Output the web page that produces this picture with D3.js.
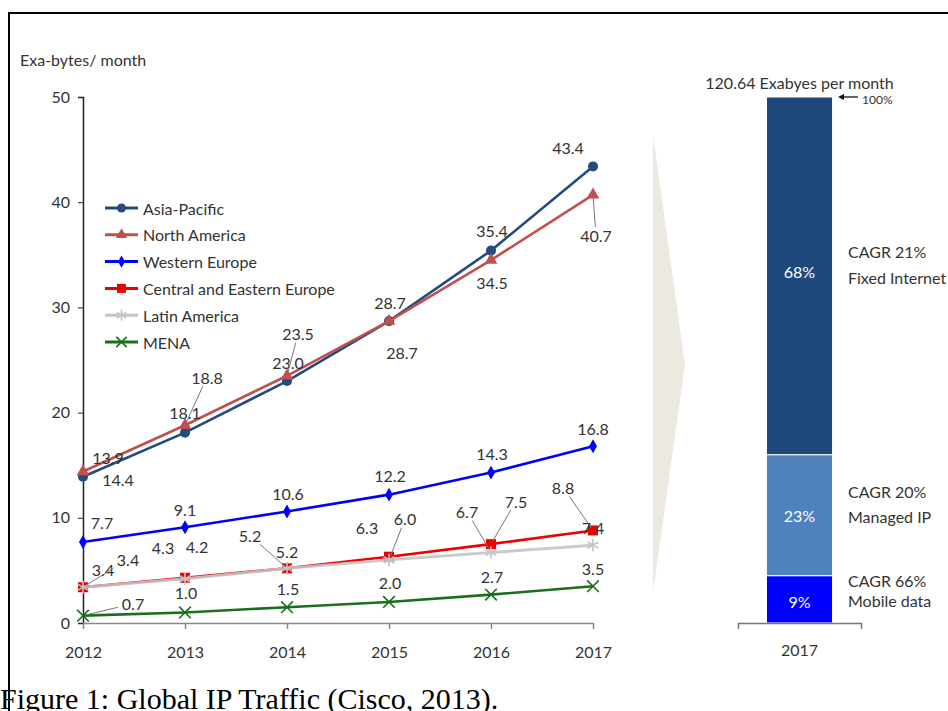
<!DOCTYPE html>
<html>
<head>
<meta charset="utf-8">
<script src="https://cdn.jsdelivr.net/npm/d3@7/dist/d3.min.js"></script>
<style>
  html, body { margin: 0; padding: 0; background: #fff; }
  svg { display: block; }
  text { font-family: Lato, "Open Sans", sans-serif; fill: #333; }
</style>
</head>
<body>
<svg id="chart" width="948" height="711"></svg>
<script>
// ---- data ----
const years = [2012, 2013, 2014, 2015, 2016, 2017];
const asiaPacific = [13.9, 18.1, 23.0, 28.7, 35.4, 43.4];
const northAmerica = [14.4, 18.8, 23.5, 28.7, 34.5, 40.7];
const westernEurope = [7.7, 9.1, 10.6, 12.2, 14.3, 16.8];
const centralEasternEurope = [3.4, 4.3, 5.2, 6.3, 7.5, 8.8];
const latinAmerica = [3.4, 4.2, 5.2, 6.0, 6.7, 7.4];
const mena = [0.7, 1.0, 1.5, 2.0, 2.7, 3.5];
const yTicks = [0, 10, 20, 30, 40, 50];

const trafficTypes = ["Mobile data", "Managed IP", "Fixed Internet"];
const trafficShares = [9, 23, 68];
const trafficCagr = [66, 20, 21];
const trafficYear = "2017";
const trafficTotal = "120.64 Exabyes per month";

// ---- series styling and label placement (pixel offsets from the point) ----
const series = [
  { name: "Asia-Pacific", values: asiaPacific, color: "#234B7F", symbol: "circle",
    labels: [[25,-19],[0,-20],[1,-19],[1,-19],[1,-20],[-25,-19]] },
  { name: "North America", values: northAmerica, color: "#C0504D", symbol: "triangle",
    labels: [[35,8],[22,-48,1],[11,-42,1],[13,31],[1,22],[3,41,1]] },
  { name: "Western Europe", values: westernEurope, color: "#0000FF", symbol: "diamond",
    labels: [[19,-19],[0,-18],[1,-18],[1,-19],[1,-19],[0,-18]] },
  { name: "Central and Eastern Europe", values: centralEasternEurope, color: "#EE0000", symbol: "square",
    labels: [[20,-18],[-22,-30],[-37,-33,1],[-22,-29],[25,-43,1],[-30,-43,1]] },
  { name: "Latin America", values: latinAmerica, color: "#C4C4C4", symbol: "asterisk",
    labels: [[45,-28,1],[12,-32],[0,-17],[16,-41,1],[-24,-41,1],[0,-18]] },
  { name: "MENA", values: mena, color: "#1B6E1B", symbol: "times",
    labels: [[50,-12,1],[1,-20],[1,-19],[1,-19],[1,-18],[0,-18]] }
];

const svg = d3.select("#chart");

// frame
svg.append("path")
  .attr("d", "M9,711 V13 H948")
  .attr("fill", "none").attr("stroke", "#000").attr("stroke-width", 2);

// ---- line chart ----
const x = d3.scalePoint().domain(years).range([83, 593]);
const y = d3.scaleLinear().domain([0, 50]).range([623, 97]);

svg.append("text").attr("x", 20).attr("y", 66)
  .style("font-size", "16px").text("Exa-bytes/ month");

const yAxis = svg.append("g").attr("transform", "translate(83,0)")
  .call(d3.axisLeft(y).tickValues(yTicks).tickSize(5).tickPadding(8).tickFormat(d3.format("d")));
yAxis.select(".domain").attr("stroke", "#222").attr("stroke-width", 1.5);
yAxis.selectAll(".tick line").attr("stroke", "#222");
yAxis.selectAll("text").style("font-size", "16px").style("font-family", "Lato, sans-serif").attr("fill", "#333");

const xAxis = svg.append("g").attr("transform", "translate(0,623)")
  .call(d3.axisBottom(x).tickSizeInner(6).tickSizeOuter(0).tickPadding(18).tickFormat(d3.format("d")));
xAxis.select(".domain").attr("stroke", "#888").attr("stroke-width", 1.5);
xAxis.selectAll(".tick line").attr("stroke", "#888").attr("stroke-width", 1.5);
xAxis.selectAll("text").style("font-size", "16px").style("font-family", "Lato, sans-serif").attr("fill", "#333");

const symbolTypes = {
  circle: d3.symbolCircle,
  triangle: d3.symbolTriangle,
  diamond: d3.symbolDiamond,
  square: d3.symbolSquare,
  asterisk: d3.symbolAsterisk,
  times: d3.symbolTimes || d3.symbolX
};
const symbolSizes = { circle: 80, triangle: 70, diamond: 55, square: 100, asterisk: 110, times: 90 };
const strokeSymbols = new Set(["asterisk", "times"]);

function drawSymbol(g, s, cx, cy, scale) {
  const sz = symbolSizes[s.symbol] * (scale || 1);
  const p = g.append("path")
    .attr("d", d3.symbol().type(symbolTypes[s.symbol]).size(sz)())
    .attr("transform", `translate(${cx},${cy})`);
  if (strokeSymbols.has(s.symbol)) {
    p.attr("fill", "none").attr("stroke", s.color).attr("stroke-width", 1.6);
  } else {
    p.attr("fill", s.color);
  }
  return p;
}

const line = d3.line().x((d, i) => x(years[i])).y(d => y(d));

const plot = svg.append("g");
series.forEach(s => {
  plot.append("path").datum(s.values)
    .attr("d", line)
    .attr("fill", "none")
    .attr("stroke", s.color)
    .attr("stroke-width", s.symbol === "asterisk" ? 3 : 2.6)
    .attr("opacity", s.symbol === "asterisk" ? 0.9 : 1);
  s.values.forEach((v, i) => drawSymbol(plot, s, x(years[i]), y(v)));
});

// value labels with leader lines
const labels = svg.append("g");
series.forEach(s => {
  s.values.forEach((v, i) => {
    const [dx, dy, leader] = s.labels[i];
    const mx = x(years[i]), my = y(v);
    const lx = mx + dx, ly = my + dy;
    if (leader) {
      const ddx = mx - lx, ddy = my - ly;
      const t = Math.min(15 / Math.abs(ddx || 1e-6), 9 / Math.abs(ddy || 1e-6));
      const len = Math.hypot(ddx, ddy);
      const e = 1 - 3 / len;
      labels.append("line")
        .attr("x1", lx + t * ddx).attr("y1", ly + t * ddy)
        .attr("x2", lx + e * ddx).attr("y2", ly + e * ddy)
        .attr("stroke", "#777").attr("stroke-width", 1);
    }
    labels.append("text")
      .attr("x", lx).attr("y", ly)
      .attr("text-anchor", "middle").attr("dominant-baseline", "central")
      .style("font-size", "16px")
      .text(d3.format(".1f")(v));
  });
});

// legend
const legend = svg.append("g");
series.forEach((s, i) => {
  const ly = 208 + i * 26.8;
  legend.append("line").attr("x1", 105).attr("x2", 138).attr("y1", ly).attr("y2", ly)
    .attr("stroke", s.color).attr("stroke-width", 3);
  drawSymbol(legend, s, 121.5, ly, 0.8);
  legend.append("text").attr("x", 143).attr("y", ly)
    .attr("dominant-baseline", "central")
    .style("font-size", "16px").text(s.name);
});

// ---- wedge pointing to the 2017 breakdown ----
svg.append("path")
  .attr("d", "M653,135 L685,365 L653,592 Z")
  .attr("fill", "#ECEAE0");

// ---- 2017 stacked bar ----
const bx = d3.scaleBand().domain([trafficYear]).range([738, 861]).paddingInner(0).paddingOuter(0.43);
const by = d3.scaleLinear().domain([0, 100]).range([623, 97]);
const segColors = ["#0000FF", "#4F81BD", "#1F497D"];

const stack = [];
let acc = 0;
trafficShares.forEach((v, i) => { stack.push({ y0: acc, y1: acc + v, v, i }); acc += v; });

const bar = svg.append("g");
bar.selectAll("rect").data(stack).join("rect")
  .attr("x", bx(trafficYear)).attr("width", bx.bandwidth())
  .attr("y", d => by(d.y1)).attr("height", d => by(d.y0) - by(d.y1))
  .attr("fill", d => segColors[d.i])
  .attr("stroke", "#fff").attr("stroke-width", 1);

bar.selectAll("text.pct").data(stack).join("text")
  .attr("class", "pct")
  .attr("x", bx(trafficYear) + bx.bandwidth() / 2)
  .attr("y", d => d.i === 0 ? by(d.y0) - 22 : (by(d.y0) + by(d.y1)) / 2 + (d.i === 2 ? -4 : 0))
  .attr("text-anchor", "middle").attr("dominant-baseline", "central")
  .style("font-size", "16px").style("fill", "#fff")
  .text(d => d.v + "%");

// side annotations: CAGR and traffic type
const sideY = [[580, 600], [491, 516], [251, 277]];
stack.forEach(d => {
  bar.append("text").attr("x", 848).attr("y", sideY[d.i][0])
    .attr("dominant-baseline", "central").style("font-size", "16px")
    .text("CAGR " + trafficCagr[d.i] + "%");
  bar.append("text").attr("x", 848).attr("y", sideY[d.i][1])
    .attr("dominant-baseline", "central").style("font-size", "16px")
    .text(trafficTypes[d.i]);
});

// bar axis
const bAxis = svg.append("g").attr("transform", "translate(0,623)")
  .call(d3.axisBottom(bx).tickSize(0).tickSizeOuter(6).tickPadding(22));
bAxis.select(".domain").attr("stroke", "#777").attr("stroke-width", 1.5);
bAxis.selectAll("text").style("font-size", "16px").style("font-family", "Lato, sans-serif").attr("fill", "#333");

// total label and 100% marker
svg.append("text").attr("x", bx(trafficYear) + bx.bandwidth() / 2).attr("y", 82)
  .attr("text-anchor", "middle").attr("dominant-baseline", "central")
  .style("font-size", "16px").text(trafficTotal);
svg.append("line").attr("x1", 858).attr("x2", 841).attr("y1", by(100)).attr("y2", by(100))
  .attr("stroke", "#111").attr("stroke-width", 1.3);
svg.append("path").attr("d", `M838,${by(100)} l6,-3 v6 z`).attr("fill", "#111");
svg.append("text").attr("x", 862).attr("y", by(100) + 2)
  .attr("dominant-baseline", "central").style("font-size", "12px").text("100%");

// caption
svg.append("text").attr("x", 0).attr("y", 709)
  .style("font-family", "'Liberation Serif', 'Times New Roman', serif")
  .style("font-size", "30px").style("fill", "#000")
  .text("Figure 1: Global IP Traffic (Cisco, 2013).");
</script>
</body>
</html>
